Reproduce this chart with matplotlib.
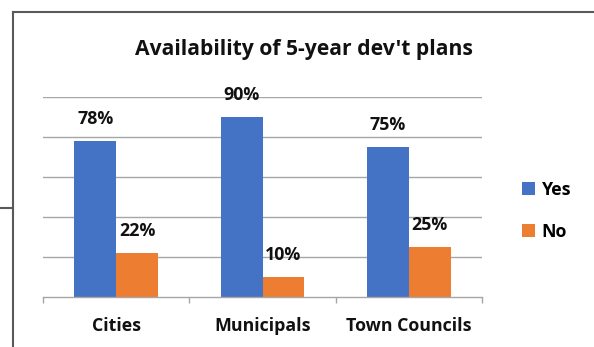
import matplotlib.pyplot as plt
from matplotlib.lines import Line2D

# данные по наличию пятилетних планов развития
categories = ["Cities", "Municipals", "Town Councils"]
yes_values = [78, 90, 75]
no_values = [22, 10, 25]

W, H = 594, 347
fig = plt.figure(figsize=(W / 100, H / 100), dpi=100)
plt.rcParams['font.family'] = ['Open Sans', 'DejaVu Sans']
txt_color = "#111111"

ax = fig.add_axes([43 / W, 50 / H, 439 / W, 200 / H])
x = range(len(categories))
bw = 0.285

bars_yes = ax.bar([i - bw / 2 for i in x], yes_values, bw, color="#4472C4", label="Yes")
bars_no = ax.bar([i + bw / 2 for i in x], no_values, bw, color="#ED7D31", label="No")

for bars, vals in ((bars_yes, yes_values), (bars_no, no_values)):
    for b, v in zip(bars, vals):
        ax.annotate(f"{v}%", (b.get_x() + b.get_width() / 2, v), xytext=(0, 16),
                    textcoords="offset points", ha="center", va="center",
                    fontsize=12.8, fontweight="bold", color=txt_color)

ax.set_xlim(-0.5, 2.5)
ax.set_ylim(0, 100)
ax.set_yticks([20, 40, 60, 80, 100])
ax.yaxis.grid(True, color="#a6a6a6", linewidth=1)
ax.set_axisbelow(True)
ax.tick_params(axis="y", left=False, labelleft=False)
for s in ("left", "right", "top"):
    ax.spines[s].set_visible(False)
ax.spines["bottom"].set_color("#a6a6a6")
ax.spines["bottom"].set_linewidth(1)

ax.set_xticks(list(x))
ax.set_xticklabels(categories, fontsize=12.8, fontweight="bold", color=txt_color)
ax.tick_params(axis="x", which="major", length=0, pad=14.5)
ax.set_xticks([-0.5, 0.5, 1.5, 2.5], minor=True)
ax.tick_params(axis="x", which="minor", length=4, color="#a6a6a6", width=1)

fig.text(304 / W, 1 - 50 / H, "Availability of 5-year dev't plans",
         ha="center", va="center", fontsize=15.2, fontweight="bold", color=txt_color)

fig.legend(handles=[bars_yes, bars_no], labels=["Yes", "No"], loc="center left",
           bbox_to_anchor=(506 / W, 1 - 211 / H), frameon=False, handlelength=0.75,
           handleheight=0.75, handletextpad=0.35, labelspacing=1.35,
           prop={"size": 12.8, "weight": "bold"})

# рамка слева и сверху
line_kw = dict(color="#595959", linewidth=1.5, transform=fig.transFigure)
fig.add_artist(Line2D([13 / W, 1], [1 - 12 / H, 1 - 12 / H], **line_kw))
fig.add_artist(Line2D([13 / W, 13 / W], [0, 1 - 12 / H], **line_kw))
fig.add_artist(Line2D([0, 13 / W], [1 - 208 / H, 1 - 208 / H], **line_kw))

fig.savefig("out.png", dpi=100)
